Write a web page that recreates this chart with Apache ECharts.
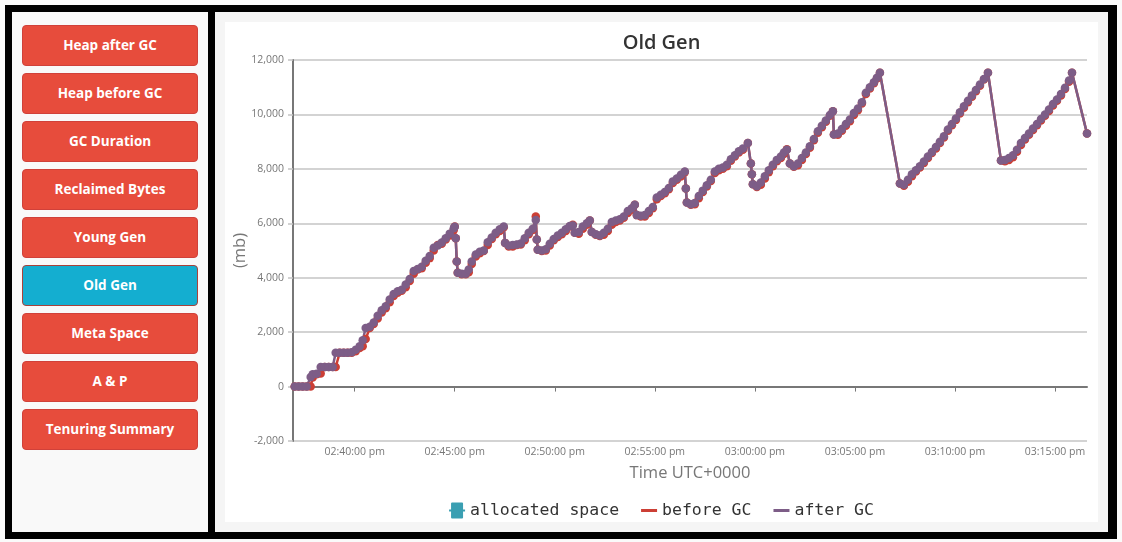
<!DOCTYPE html>
<html>
<head>
<meta charset="utf-8">
<script src="https://cdn.jsdelivr.net/npm/echarts@6/dist/echarts.min.js"></script>
<style>
  html, body { margin: 0; padding: 0; width: 1122px; height: 542px; background: #fafafa; overflow: hidden; }
  #frame { position: absolute; left: 5px; top: 5px; width: 1112px; height: 534px; background: #000; }
  #left { position: absolute; left: 12px; top: 12px; width: 196px; height: 520px; background: #f9f9f9; }
  #right { position: absolute; left: 215px; top: 12px; width: 893px; height: 520px; background: #f5f5f5; }
  #chart { position: absolute; left: 225px; top: 22px; width: 873px; height: 500px; background: #ffffff; }
  .btn { position: absolute; left: 22px; width: 174px; height: 39px; background: #e74c3c; border: 1px solid #d0413a;
         border-radius: 4px; color: #fff; font-family: "Open Sans", sans-serif; font-weight: 700; font-size: 13.5px;
         line-height: 39px; text-align: center; }
  .btn.active { background: #14aed0; border-color: #a8423a; }
</style>
</head>
<body>
<div id="frame"></div>
<div id="left"></div>
<div id="right"></div>
<div id="buttons"></div>
<div id="chart"></div>
<script>
const buttonLabels = ['Heap after GC', 'Heap before GC', 'GC Duration', 'Reclaimed Bytes', 'Young Gen', 'Old Gen', 'Meta Space', 'A & P', 'Tenuring Summary'];
const activeButton = 'Old Gen';

const times = ['14:37:00','14:37:12','14:37:24','14:37:36','14:37:48','14:37:54','14:38:06','14:38:18','14:38:30','14:38:42',
'14:38:54','14:39:03','14:39:15','14:39:27','14:39:39','14:39:51','14:40:03','14:40:15','14:40:24','14:40:33',
'14:40:45','14:40:57','14:41:09','14:41:21','14:41:33','14:41:45','14:41:57','14:42:09','14:42:21','14:42:33',
'14:42:45','14:42:57','14:43:09','14:43:21','14:43:33','14:43:45','14:43:57','14:44:09','14:44:21','14:44:33',
'14:44:45','14:44:57','14:45:00','14:45:03','14:45:06','14:45:09','14:45:21','14:45:33','14:45:42','14:45:51',
'14:46:03','14:46:15','14:46:27','14:46:39','14:46:51','14:47:03','14:47:15','14:47:27','14:47:31','14:47:42',
'14:47:54','14:48:06','14:48:18','14:48:30','14:48:42','14:48:54','14:49:03','14:49:06','14:49:09','14:49:21',
'14:49:33','14:49:45','14:49:57','14:50:09','14:50:21','14:50:33','14:50:45','14:50:54','14:51:00','14:51:12',
'14:51:24','14:51:36','14:51:45','14:51:51','14:52:03','14:52:15','14:52:27','14:52:39','14:52:51','14:53:03',
'14:53:15','14:53:27','14:53:39','14:53:51','14:54:00','14:54:06','14:54:18','14:54:30','14:54:42','14:54:54',
'14:55:06','14:55:18','14:55:30','14:55:42','14:55:54','14:56:06','14:56:18','14:56:30','14:56:33','14:56:36',
'14:56:48','14:57:00','14:57:12','14:57:24','14:57:36','14:57:48','14:58:00','14:58:12','14:58:24','14:58:36',
'14:58:48','14:59:00','14:59:12','14:59:24','14:59:39','14:59:48','14:59:51','14:59:54','15:00:06','15:00:18',
'15:00:30','15:00:42','15:00:54','15:01:06','15:01:18','15:01:27','15:01:36','15:01:45','15:01:57','15:02:09',
'15:02:21','15:02:33','15:02:45','15:02:57','15:03:09','15:03:21','15:03:33','15:03:45','15:03:54','15:03:57',
'15:04:09','15:04:21','15:04:33','15:04:45','15:04:57','15:05:09','15:05:21','15:05:33','15:05:45','15:05:57',
'15:06:06','15:06:15','15:07:15','15:07:27','15:07:39','15:07:51','15:08:03','15:08:15','15:08:27','15:08:39',
'15:08:51','15:09:03','15:09:15','15:09:27','15:09:39','15:09:51','15:10:03','15:10:15','15:10:27','15:10:39',
'15:10:51','15:11:03','15:11:15','15:11:27','15:11:39','15:12:18','15:12:30','15:12:42','15:12:54','15:13:06',
'15:13:18','15:13:30','15:13:42','15:13:54','15:14:06','15:14:18','15:14:30','15:14:42','15:14:54','15:15:06',
'15:15:18','15:15:30','15:15:42','15:15:51','15:16:36'];

const afterGC = [0,0,0,0,350,450,470,720,720,720,
720,1240,1240,1240,1240,1260,1350,1480,1700,2150,
2200,2350,2600,2800,2950,3200,3400,3500,3560,3750,
3950,4250,4320,4400,4620,4800,5100,5180,5290,5450,
5620,5820,5870,5450,4600,4180,4150,4150,4300,4600,
4850,4950,5000,5300,5480,5650,5780,5880,5280,5180,
5200,5220,5260,5450,5650,5800,6120,5400,5030,5000,
5050,5250,5420,5550,5650,5780,5900,5920,5650,5680,
5880,6000,6100,5680,5600,5550,5650,5800,6050,6100,
6150,6250,6450,6550,6680,6300,6280,6300,6450,6600,
6950,7050,7150,7300,7540,7650,7780,7900,7280,6760,
6700,6750,7000,7200,7400,7600,7900,8000,8050,8150,
8350,8500,8650,8750,8950,8200,7800,7430,7360,7500,
7730,7950,8150,8330,8450,8600,8700,8200,8100,8200,
8400,8600,8830,9100,9380,9580,9780,9980,10120,9260,
9300,9460,9650,9810,10050,10220,10450,10800,11000,11180,
11350,11530,7460,7420,7600,7800,7950,8100,8270,8450,
8620,8800,9000,9200,9450,9650,9850,10080,10300,10500,
10700,10900,11100,11300,11530,8310,8330,8400,8500,8700,
8950,9130,9300,9480,9650,9830,10000,10180,10380,10550,
10750,10980,11250,11530,9300];

const beforeGC = [0,0,0,0,0,330,450,480,720,720,
720,720,1240,1240,1240,1240,1300,1420,1480,1750,
2150,2300,2500,2720,2880,3100,3330,3450,3520,3650,
3880,4150,4300,4350,4550,4720,5000,5200,5250,5400,
5550,5750,5880,5450,4600,4180,4130,4130,4200,4500,
4780,4900,4980,5200,5420,5600,5720,5850,5280,5150,
5150,5200,5220,5380,5600,5750,6250,5400,5030,4980,
5000,5180,5380,5500,5600,5720,5880,5950,5650,5620,
5800,5950,6100,5680,5580,5530,5580,5720,5950,6050,
6100,6200,6380,6500,6680,6300,6250,6250,6380,6550,
6880,7000,7100,7250,7480,7600,7720,7880,7280,6760,
6680,6700,6920,7150,7350,7550,7850,7950,8000,8100,
8300,8450,8600,8700,8950,8200,7800,7430,7330,7420,
7650,7880,8100,8280,8400,8550,8720,8200,8080,8130,
8330,8550,8780,9050,9330,9530,9730,9950,10120,9260,
9250,9400,9580,9750,9980,10150,10400,10750,10950,11150,
11320,11530,7460,7380,7530,7730,7900,8050,8220,8400,
8580,8750,8950,9150,9400,9600,9800,10030,10250,10450,
10650,10850,11050,11280,11530,8310,8280,8330,8430,8630,
8880,9080,9250,9430,9600,9780,9950,10130,10330,10500,
10700,10930,11200,11530,9300];

const allocatedSpace = [];

const seriesNames = ['allocated space', 'before GC', 'after GC'];
const axisStart = '14:36:55';
const axisEnd = '15:16:36';
const tickTimes = ['14:40:00', '14:45:00', '14:50:00', '14:55:00', '15:00:00', '15:05:00', '15:10:00', '15:15:00'];

// buttons
const btnWrap = document.getElementById('buttons');
buttonLabels.forEach((label, i) => {
  const d = document.createElement('div');
  d.className = 'btn' + (label === activeButton ? ' active' : '');
  d.style.top = (25 + i * 48) + 'px';
  d.textContent = label;
  btnWrap.appendChild(d);
});

function toMs(t) {
  const [h, m, s] = t.split(':').map(Number);
  return Date.UTC(2020, 0, 1, h, m, s);
}
const pad = n => String(n).padStart(2, '0');
function fmtTime(v) {
  const d = new Date(v);
  let h = d.getUTCHours();
  const ap = h >= 12 ? 'pm' : 'am';
  h = h % 12; if (h === 0) h = 12;
  return pad(h) + ':' + pad(d.getUTCMinutes()) + ':' + pad(d.getUTCSeconds()) + ' ' + ap;
}

const beforeData = times.map((t, i) => [toMs(t), beforeGC[i]]);
const afterData = times.map((t, i) => [toMs(t), afterGC[i]]);
const tickValues = tickTimes.map(toMs);

const chart = echarts.init(document.getElementById('chart'), null, { renderer: 'canvas' });
const lineIcon = 'path://M0,0 L16,0 L16,3 L0,3 Z';
const boxIcon = 'path://M0,7 L2,7 L2,1 Q2,0 3,0 L13,0 Q14,0 14,1 L14,7 L16,7 L16,9 L14,9 L14,15 Q14,16 13,16 L3,16 Q2,16 2,15 L2,9 L0,9 Z';

chart.setOption({
  animation: false,
  backgroundColor: '#ffffff',
  title: {
    text: 'Old Gen', left: 'center', top: 6,
    textStyle: { fontFamily: 'Open Sans', fontSize: 20, fontWeight: 600, color: '#333333' }
  },
  legend: {
    top: 475, left: 'center', itemGap: 22, itemWidth: 16, itemHeight: 16,
    textStyle: { fontFamily: 'DejaVu Sans Mono', fontSize: 16.5, color: '#333333' },
    data: [
      { name: seriesNames[0], icon: boxIcon },
      { name: seriesNames[1], icon: lineIcon },
      { name: seriesNames[2], icon: lineIcon }
    ]
  },
  grid: { left: 68, top: 38, right: 11, bottom: 81, containLabel: false, outerBoundsMode: 'none' },
  xAxis: {
    type: 'value',
    min: toMs(axisStart), max: toMs(axisEnd),
    name: 'Time UTC+0000', nameLocation: 'middle', nameGap: 24,
    nameTextStyle: { fontFamily: 'Open Sans', fontSize: 16.5, color: '#777777' },
    axisLine: { lineStyle: { color: '#777777', width: 2 } },
    axisTick: { show: true, length: 5, customValues: tickValues, lineStyle: { color: '#777777', width: 1 } },
    axisLabel: { customValues: tickValues, formatter: v => fmtTime(v), fontFamily: 'Open Sans', fontSize: 10.5, color: '#777777', margin: 6, hideOverlap: false },
    splitLine: { show: false }
  },
  yAxis: {
    type: 'value', min: -2000, max: 12000, interval: 2000,
    name: '(mb)', nameLocation: 'middle', nameGap: 44, nameMoveOverlap: false,
    nameTextStyle: { fontFamily: 'Open Sans', fontSize: 16.5, color: '#777777' },
    axisLine: { show: true, lineStyle: { color: '#777777', width: 2 } },
    axisTick: { show: true, length: 5, lineStyle: { color: '#c4c4c4', width: 1.5 } },
    axisLabel: { formatter: v => v.toLocaleString('en-US'), fontFamily: 'Open Sans', fontSize: 10.5, color: '#777777', margin: 9 },
    splitLine: { show: true, lineStyle: { color: '#c4c4c4', width: 1.5 } }
  },
  series: [
    { name: seriesNames[0], type: 'line', data: allocatedSpace, color: '#3a9fb2', symbol: 'roundRect' },
    { name: seriesNames[1], type: 'line', data: beforeData, color: '#cc3f35',
      symbol: 'circle', symbolSize: 8.5, showAllSymbol: true, lineStyle: { width: 2.5 } },
    { name: seriesNames[2], type: 'line', data: afterData, color: '#7d5d87',
      symbol: 'circle', symbolSize: 8.5, showAllSymbol: true, lineStyle: { width: 2.5 } }
  ]
});
</script>
</body>
</html>
